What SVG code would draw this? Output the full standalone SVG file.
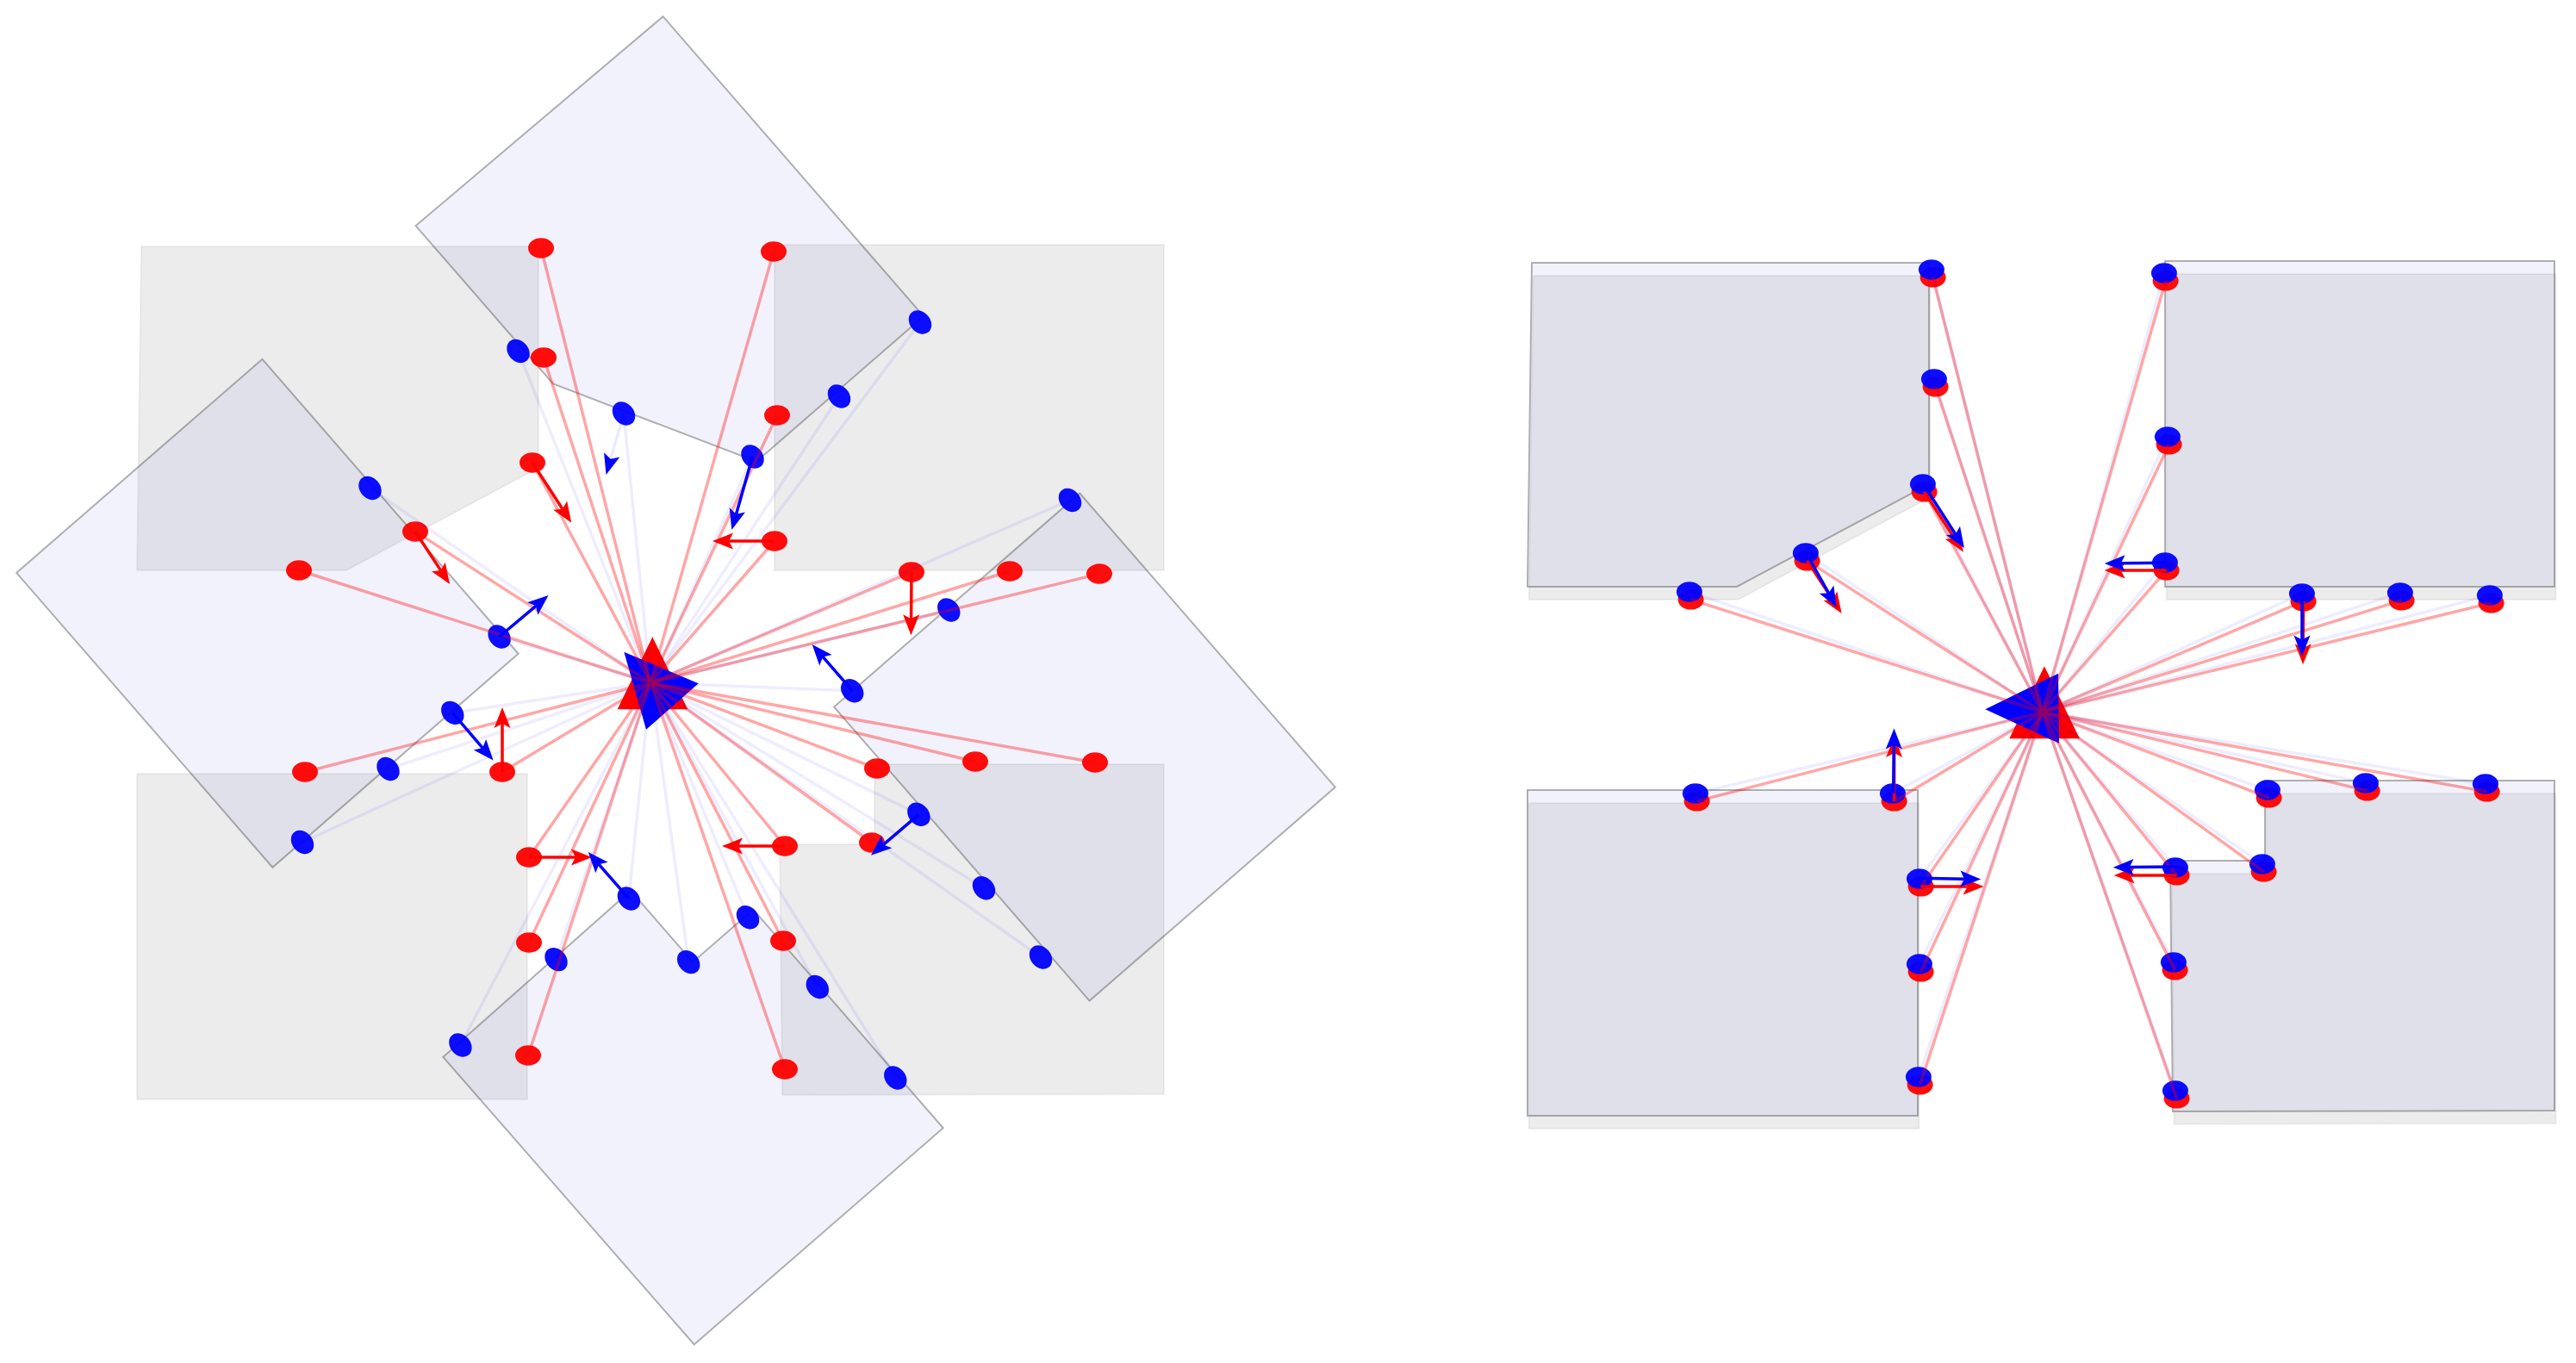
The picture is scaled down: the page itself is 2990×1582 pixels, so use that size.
<svg xmlns="http://www.w3.org/2000/svg" width="2990" height="1582" viewBox="0 0 2990 1582">
<defs>
<style>
.gs{fill:#000;fill-opacity:.075;stroke:#000;stroke-opacity:.05;stroke-width:2}
.bs{fill:#0000c8;fill-opacity:.05;stroke:#555;stroke-opacity:.45;stroke-width:2}
.rp ellipse{fill:#f00;fill-opacity:.95}
.bp ellipse{fill:#00f;fill-opacity:.95}
.rr line{stroke:#f00;stroke-opacity:.35;stroke-width:3.5}
.br line{stroke:#00f;stroke-opacity:.07;stroke-width:3.5}
.ra line{stroke:#f00;stroke-width:3.5;marker-end:url(#hr)}
.ba line{stroke:#00f;stroke-width:3.5;marker-end:url(#hb)}
</style>
<marker id="hr" markerUnits="userSpaceOnUse" viewBox="-6 -11 26 22" markerWidth="26" markerHeight="22" refX="0" refY="0" orient="auto"><path d="M19,0 L-5,-9.5 L0,0 L-5,9.5 Z" fill="#f00"/></marker>
<marker id="hb" markerUnits="userSpaceOnUse" viewBox="-6 -11 26 22" markerWidth="26" markerHeight="22" refX="0" refY="0" orient="auto"><path d="M19,0 L-5,-9.5 L0,0 L-5,9.5 Z" fill="#00f"/></marker>
<path id="sTL" d="M164,286 L625,286 L625,543 L402,662 L159,662 Z"/>
<path id="sTR" d="M899,284 L1351,284 L1351,662 L899,662 Z"/>
<path id="sBL" d="M159,898 L612,898 L612,1276 L159,1276 Z"/>
<path id="sBR" d="M1015,887 L1351,887 L1351,1270 L908,1271 L905,980 L1015,980 Z"/>
</defs>
<rect width="2990" height="1582" fill="#fff"/>

<g id="left-panel">
 <g id="L-ref-shapes">
  <g id="L-ref-TL"><use href="#sTL" class="gs"/></g>
  <g id="L-ref-TR"><use href="#sTR" class="gs"/></g>
  <g id="L-ref-BL"><use href="#sBL" class="gs"/></g>
  <g id="L-ref-BR"><use href="#sBR" class="gs"/></g>
 </g>
 <g id="L-est-shapes" transform="rotate(49 759.6 817)">
  <g id="L-est-TL"><use href="#sTL" class="bs"/></g>
  <g id="L-est-TR"><use href="#sTR" class="bs"/></g>
  <g id="L-est-BL"><use href="#sBL" class="bs"/></g>
  <g id="L-est-BR"><use href="#sBR" class="bs"/></g>
 </g>
 <g id="L-ref-pose"><polygon points="757.3,739.3 716.7,823.3 798.3,823.3" fill="#f00"/></g>
 <g id="L-est-pose"><polygon points="724.3,756.7 810.7,793.3 750,846.7" fill="#00f"/></g>
 <g id="L-ref-points" class="rp">
  <ellipse cx="628" cy="288" rx="15" ry="11.7"/>
  <ellipse cx="631" cy="415" rx="15" ry="11.7"/>
  <ellipse cx="618" cy="537" rx="15" ry="11.7"/>
  <ellipse cx="482" cy="617" rx="15" ry="11.7"/>
  <ellipse cx="347" cy="662" rx="15" ry="11.7"/>
  <ellipse cx="898" cy="292" rx="15" ry="11.7"/>
  <ellipse cx="902" cy="482" rx="15" ry="11.7"/>
  <ellipse cx="899" cy="628" rx="15" ry="11.7"/>
  <ellipse cx="1058" cy="664" rx="15" ry="11.7"/>
  <ellipse cx="1172" cy="663" rx="15" ry="11.7"/>
  <ellipse cx="1276" cy="666" rx="15" ry="11.7"/>
  <ellipse cx="354" cy="896" rx="15" ry="11.7"/>
  <ellipse cx="583" cy="896" rx="15" ry="11.7"/>
  <ellipse cx="614" cy="995" rx="15" ry="11.7"/>
  <ellipse cx="614" cy="1094" rx="15" ry="11.7"/>
  <ellipse cx="613" cy="1225" rx="15" ry="11.7"/>
  <ellipse cx="1018" cy="892" rx="15" ry="11.7"/>
  <ellipse cx="1132" cy="884" rx="15" ry="11.7"/>
  <ellipse cx="1271" cy="885" rx="15" ry="11.7"/>
  <ellipse cx="1012" cy="978" rx="15" ry="11.7"/>
  <ellipse cx="911" cy="982" rx="15" ry="11.7"/>
  <ellipse cx="909" cy="1092" rx="15" ry="11.7"/>
  <ellipse cx="911" cy="1241" rx="15" ry="11.7"/>
 </g>
 <g id="L-est-points" class="bp">
  <ellipse cx="1068" cy="374" rx="15" ry="11.7" transform="rotate(49 1068 374)"/>
  <ellipse cx="974" cy="460" rx="15" ry="11.7" transform="rotate(49 974 460)"/>
  <ellipse cx="873.5" cy="530" rx="15" ry="11.7" transform="rotate(49 873.5 530)"/>
  <ellipse cx="724" cy="480" rx="15" ry="11.7" transform="rotate(49 724 480)"/>
  <ellipse cx="601.5" cy="407.5" rx="15" ry="11.7" transform="rotate(49 601.5 407.5)"/>
  <ellipse cx="1242" cy="580.5" rx="15" ry="11.7" transform="rotate(49 1242 580.5)"/>
  <ellipse cx="1101.3" cy="708" rx="15" ry="11.7" transform="rotate(49 1101.3 708)"/>
  <ellipse cx="989.2" cy="801.7" rx="15" ry="11.7" transform="rotate(49 989.2 801.7)"/>
  <ellipse cx="1066.4" cy="945.3" rx="15" ry="11.7" transform="rotate(49 1066.4 945.3)"/>
  <ellipse cx="1142" cy="1030.7" rx="15" ry="11.7" transform="rotate(49 1142 1030.7)"/>
  <ellipse cx="1208" cy="1111" rx="15" ry="11.7" transform="rotate(49 1208 1111)"/>
  <ellipse cx="429.5" cy="566.5" rx="15" ry="11.7" transform="rotate(49 429.5 566.5)"/>
  <ellipse cx="579.6" cy="739" rx="15" ry="11.7" transform="rotate(49 579.6 739)"/>
  <ellipse cx="525.3" cy="827.4" rx="15" ry="11.7" transform="rotate(49 525.3 827.4)"/>
  <ellipse cx="450.5" cy="892.5" rx="15" ry="11.7" transform="rotate(49 450.5 892.5)"/>
  <ellipse cx="351" cy="977.5" rx="15" ry="11.7" transform="rotate(49 351 977.5)"/>
  <ellipse cx="868" cy="1064.7" rx="15" ry="11.7" transform="rotate(49 868 1064.7)"/>
  <ellipse cx="948.8" cy="1145.5" rx="15" ry="11.7" transform="rotate(49 948.8 1145.5)"/>
  <ellipse cx="1039.3" cy="1251" rx="15" ry="11.7" transform="rotate(49 1039.3 1251)"/>
  <ellipse cx="799.2" cy="1116.6" rx="15" ry="11.7" transform="rotate(49 799.2 1116.6)"/>
  <ellipse cx="729.9" cy="1043" rx="15" ry="11.7" transform="rotate(49 729.9 1043)"/>
  <ellipse cx="645.5" cy="1113.6" rx="15" ry="11.7" transform="rotate(49 645.5 1113.6)"/>
  <ellipse cx="534.4" cy="1213" rx="15" ry="11.7" transform="rotate(49 534.4 1213)"/>
 </g>
 <g id="L-connectors">
  <g id="L-ref-rays" class="rr">
   <line x1="755" y1="792.5" x2="628" y2="288"/>
   <line x1="755" y1="792.5" x2="631" y2="415"/>
   <line x1="755" y1="792.5" x2="618" y2="537"/>
   <line x1="755" y1="792.5" x2="482" y2="617"/>
   <line x1="755" y1="792.5" x2="347" y2="662"/>
   <line x1="755" y1="792.5" x2="898" y2="292"/>
   <line x1="755" y1="792.5" x2="902" y2="482"/>
   <line x1="755" y1="792.5" x2="899" y2="628"/>
   <line x1="755" y1="792.5" x2="1058" y2="664"/>
   <line x1="755" y1="792.5" x2="1172" y2="663"/>
   <line x1="755" y1="792.5" x2="1276" y2="666"/>
   <line x1="755" y1="792.5" x2="354" y2="896"/>
   <line x1="755" y1="792.5" x2="583" y2="896"/>
   <line x1="755" y1="792.5" x2="614" y2="995"/>
   <line x1="755" y1="792.5" x2="614" y2="1094"/>
   <line x1="755" y1="792.5" x2="613" y2="1225"/>
   <line x1="755" y1="792.5" x2="1018" y2="892"/>
   <line x1="755" y1="792.5" x2="1132" y2="884"/>
   <line x1="755" y1="792.5" x2="1271" y2="885"/>
   <line x1="755" y1="792.5" x2="1012" y2="978"/>
   <line x1="755" y1="792.5" x2="911" y2="982"/>
   <line x1="755" y1="792.5" x2="909" y2="1092"/>
   <line x1="755" y1="792.5" x2="911" y2="1241"/>
  </g>
  <g id="L-est-rays" class="br">
   <line x1="755" y1="792.5" x2="1068" y2="374"/>
   <line x1="755" y1="792.5" x2="974" y2="460"/>
   <line x1="755" y1="792.5" x2="873.5" y2="530"/>
   <line x1="755" y1="792.5" x2="724" y2="480"/>
   <line x1="755" y1="792.5" x2="601.5" y2="407.5"/>
   <line x1="755" y1="792.5" x2="1242" y2="580.5"/>
   <line x1="755" y1="792.5" x2="1101.3" y2="708"/>
   <line x1="755" y1="792.5" x2="989.2" y2="801.7"/>
   <line x1="755" y1="792.5" x2="1066.4" y2="945.3"/>
   <line x1="755" y1="792.5" x2="1142" y2="1030.7"/>
   <line x1="755" y1="792.5" x2="1208" y2="1111"/>
   <line x1="755" y1="792.5" x2="429.5" y2="566.5"/>
   <line x1="755" y1="792.5" x2="579.6" y2="739"/>
   <line x1="755" y1="792.5" x2="525.3" y2="827.4"/>
   <line x1="755" y1="792.5" x2="450.5" y2="892.5"/>
   <line x1="755" y1="792.5" x2="351" y2="977.5"/>
   <line x1="755" y1="792.5" x2="868" y2="1064.7"/>
   <line x1="755" y1="792.5" x2="948.8" y2="1145.5"/>
   <line x1="755" y1="792.5" x2="1039.3" y2="1251"/>
   <line x1="755" y1="792.5" x2="799.2" y2="1116.6"/>
   <line x1="755" y1="792.5" x2="729.9" y2="1043"/>
   <line x1="755" y1="792.5" x2="645.5" y2="1113.6"/>
   <line x1="755" y1="792.5" x2="534.4" y2="1213"/>
  </g>
  <g id="L-ref-normals" class="ra">
   <line x1="618" y1="537" x2="652.9" y2="590.8"/>
   <line x1="482" y1="617" x2="511.6" y2="662.1"/>
   <line x1="899" y1="628" x2="846" y2="628"/>
   <line x1="1058" y1="664" x2="1057.6" y2="718.3"/>
   <line x1="583" y1="896" x2="583" y2="840"/>
   <line x1="614" y1="995" x2="668" y2="995"/>
   <line x1="911" y1="982" x2="857" y2="982"/>
  </g>
  <g id="L-est-normals" class="ba">
   <line x1="873.5" y1="530" x2="854.5" y2="596.7"/>
   <line x1="724" y1="480" x2="708.8" y2="532.7" style="stroke-opacity:.08"/>
   <line x1="579.6" y1="739" x2="622" y2="703.3"/>
   <line x1="525.3" y1="827.4" x2="560.2" y2="868.1"/>
   <line x1="729.9" y1="1043" x2="695.2" y2="1003.3"/>
   <line x1="989.2" y1="801.7" x2="955.1" y2="762.4"/>
   <line x1="1066.4" y1="945.3" x2="1025.4" y2="980.4"/>
  </g>
 </g>
</g>

<g id="right-panel">
 <g id="R-ref-shapes" transform="translate(1615.6 33.9)">
  <g id="R-ref-TL"><use href="#sTL" class="gs"/></g>
  <g id="R-ref-TR"><use href="#sTR" class="gs"/></g>
  <g id="R-ref-BL"><use href="#sBL" class="gs"/></g>
  <g id="R-ref-BR"><use href="#sBR" class="gs"/></g>
 </g>
 <g id="R-est-shapes" transform="translate(1614 19)">
  <g id="R-est-TL"><use href="#sTL" class="bs"/></g>
  <g id="R-est-TR"><use href="#sTR" class="bs"/></g>
  <g id="R-est-BL"><use href="#sBL" class="bs"/></g>
  <g id="R-est-BR"><use href="#sBR" class="bs"/></g>
 </g>
 <g id="R-ref-pose" transform="translate(1615.6 33.9)"><polygon points="757.3,739.3 716.7,823.3 798.3,823.3" fill="#f00"/></g>
 <g id="R-est-pose"><polygon points="2304.3,823.3 2389,781.7 2390,862.7" fill="#00f"/></g>
 <g id="R-ref-points" class="rp" transform="translate(1615.6 33.9)">
  <ellipse cx="628" cy="288" rx="15" ry="11.7"/>
  <ellipse cx="631" cy="415" rx="15" ry="11.7"/>
  <ellipse cx="618" cy="537" rx="15" ry="11.7"/>
  <ellipse cx="482" cy="617" rx="15" ry="11.7"/>
  <ellipse cx="347" cy="662" rx="15" ry="11.7"/>
  <ellipse cx="898" cy="292" rx="15" ry="11.7"/>
  <ellipse cx="902" cy="482" rx="15" ry="11.7"/>
  <ellipse cx="899" cy="628" rx="15" ry="11.7"/>
  <ellipse cx="1058" cy="664" rx="15" ry="11.7"/>
  <ellipse cx="1172" cy="663" rx="15" ry="11.7"/>
  <ellipse cx="1276" cy="666" rx="15" ry="11.7"/>
  <ellipse cx="354" cy="896" rx="15" ry="11.7"/>
  <ellipse cx="583" cy="896" rx="15" ry="11.7"/>
  <ellipse cx="614" cy="995" rx="15" ry="11.7"/>
  <ellipse cx="614" cy="1094" rx="15" ry="11.7"/>
  <ellipse cx="613" cy="1225" rx="15" ry="11.7"/>
  <ellipse cx="1018" cy="892" rx="15" ry="11.7"/>
  <ellipse cx="1132" cy="884" rx="15" ry="11.7"/>
  <ellipse cx="1271" cy="885" rx="15" ry="11.7"/>
  <ellipse cx="1012" cy="978" rx="15" ry="11.7"/>
  <ellipse cx="911" cy="982" rx="15" ry="11.7"/>
  <ellipse cx="909" cy="1092" rx="15" ry="11.7"/>
  <ellipse cx="911" cy="1241" rx="15" ry="11.7"/>
 </g>
 <g id="R-est-points" class="bp" transform="translate(1613.9 24.9)">
  <ellipse cx="628" cy="288" rx="15" ry="11.7"/>
  <ellipse cx="631" cy="415" rx="15" ry="11.7"/>
  <ellipse cx="618" cy="537" rx="15" ry="11.7"/>
  <ellipse cx="482" cy="617" rx="15" ry="11.7"/>
  <ellipse cx="347" cy="662" rx="15" ry="11.7"/>
  <ellipse cx="898" cy="292" rx="15" ry="11.7"/>
  <ellipse cx="902" cy="482" rx="15" ry="11.7"/>
  <ellipse cx="899" cy="628" rx="15" ry="11.7"/>
  <ellipse cx="1058" cy="664" rx="15" ry="11.7"/>
  <ellipse cx="1172" cy="663" rx="15" ry="11.7"/>
  <ellipse cx="1276" cy="666" rx="15" ry="11.7"/>
  <ellipse cx="354" cy="896" rx="15" ry="11.7"/>
  <ellipse cx="583" cy="896" rx="15" ry="11.7"/>
  <ellipse cx="614" cy="995" rx="15" ry="11.7"/>
  <ellipse cx="614" cy="1094" rx="15" ry="11.7"/>
  <ellipse cx="613" cy="1225" rx="15" ry="11.7"/>
  <ellipse cx="1018" cy="892" rx="15" ry="11.7"/>
  <ellipse cx="1132" cy="884" rx="15" ry="11.7"/>
  <ellipse cx="1271" cy="885" rx="15" ry="11.7"/>
  <ellipse cx="1012" cy="978" rx="15" ry="11.7"/>
  <ellipse cx="911" cy="982" rx="15" ry="11.7"/>
  <ellipse cx="909" cy="1092" rx="15" ry="11.7"/>
  <ellipse cx="911" cy="1241" rx="15" ry="11.7"/>
 </g>
 <g id="R-connectors">
  <g id="R-ref-rays" class="rr" transform="translate(1615.6 33.9)">
   <line x1="755" y1="792.5" x2="628" y2="288"/>
   <line x1="755" y1="792.5" x2="631" y2="415"/>
   <line x1="755" y1="792.5" x2="618" y2="537"/>
   <line x1="755" y1="792.5" x2="482" y2="617"/>
   <line x1="755" y1="792.5" x2="347" y2="662"/>
   <line x1="755" y1="792.5" x2="898" y2="292"/>
   <line x1="755" y1="792.5" x2="902" y2="482"/>
   <line x1="755" y1="792.5" x2="899" y2="628"/>
   <line x1="755" y1="792.5" x2="1058" y2="664"/>
   <line x1="755" y1="792.5" x2="1172" y2="663"/>
   <line x1="755" y1="792.5" x2="1276" y2="666"/>
   <line x1="755" y1="792.5" x2="354" y2="896"/>
   <line x1="755" y1="792.5" x2="583" y2="896"/>
   <line x1="755" y1="792.5" x2="614" y2="995"/>
   <line x1="755" y1="792.5" x2="614" y2="1094"/>
   <line x1="755" y1="792.5" x2="613" y2="1225"/>
   <line x1="755" y1="792.5" x2="1018" y2="892"/>
   <line x1="755" y1="792.5" x2="1132" y2="884"/>
   <line x1="755" y1="792.5" x2="1271" y2="885"/>
   <line x1="755" y1="792.5" x2="1012" y2="978"/>
   <line x1="755" y1="792.5" x2="911" y2="982"/>
   <line x1="755" y1="792.5" x2="909" y2="1092"/>
   <line x1="755" y1="792.5" x2="911" y2="1241"/>
  </g>
  <g id="R-est-rays" class="br" transform="translate(1613.9 24.9)">
   <line x1="756.7" y1="801.5" x2="628" y2="288"/>
   <line x1="756.7" y1="801.5" x2="631" y2="415"/>
   <line x1="756.7" y1="801.5" x2="618" y2="537"/>
   <line x1="756.7" y1="801.5" x2="482" y2="617"/>
   <line x1="756.7" y1="801.5" x2="347" y2="662"/>
   <line x1="756.7" y1="801.5" x2="898" y2="292"/>
   <line x1="756.7" y1="801.5" x2="902" y2="482"/>
   <line x1="756.7" y1="801.5" x2="899" y2="628"/>
   <line x1="756.7" y1="801.5" x2="1058" y2="664"/>
   <line x1="756.7" y1="801.5" x2="1172" y2="663"/>
   <line x1="756.7" y1="801.5" x2="1276" y2="666"/>
   <line x1="756.7" y1="801.5" x2="354" y2="896"/>
   <line x1="756.7" y1="801.5" x2="583" y2="896"/>
   <line x1="756.7" y1="801.5" x2="614" y2="995"/>
   <line x1="756.7" y1="801.5" x2="614" y2="1094"/>
   <line x1="756.7" y1="801.5" x2="613" y2="1225"/>
   <line x1="756.7" y1="801.5" x2="1018" y2="892"/>
   <line x1="756.7" y1="801.5" x2="1132" y2="884"/>
   <line x1="756.7" y1="801.5" x2="1271" y2="885"/>
   <line x1="756.7" y1="801.5" x2="1012" y2="978"/>
   <line x1="756.7" y1="801.5" x2="911" y2="982"/>
   <line x1="756.7" y1="801.5" x2="909" y2="1092"/>
   <line x1="756.7" y1="801.5" x2="911" y2="1241"/>
  </g>
  <g id="R-ref-normals" class="ra" transform="translate(1615.6 33.9)">
   <line x1="618" y1="537" x2="652.9" y2="590.8"/>
   <line x1="482" y1="617" x2="511.6" y2="662.1"/>
   <line x1="899" y1="628" x2="846" y2="628"/>
   <line x1="1058" y1="664" x2="1057.6" y2="718.3"/>
   <line x1="583" y1="896" x2="583" y2="840"/>
   <line x1="614" y1="995" x2="668" y2="995"/>
   <line x1="911" y1="982" x2="857" y2="982"/>
  </g>
  <g id="R-est-normals" class="ba">
   <line x1="2232.3" y1="561.7" x2="2269.7" y2="620"/>
   <line x1="2096" y1="641" x2="2122.5" y2="688.4"/>
   <line x1="2513.3" y1="653.3" x2="2461.7" y2="653.8"/>
   <line x1="2672" y1="689.3" x2="2672" y2="742.5"/>
   <line x1="2197.7" y1="920.7" x2="2198.3" y2="864.5"/>
   <line x1="2227.7" y1="1019.3" x2="2280.3" y2="1020.2"/>
   <line x1="2524.3" y1="1006" x2="2471.7" y2="1006.5"/>
  </g>
 </g>
</g>
</svg>
